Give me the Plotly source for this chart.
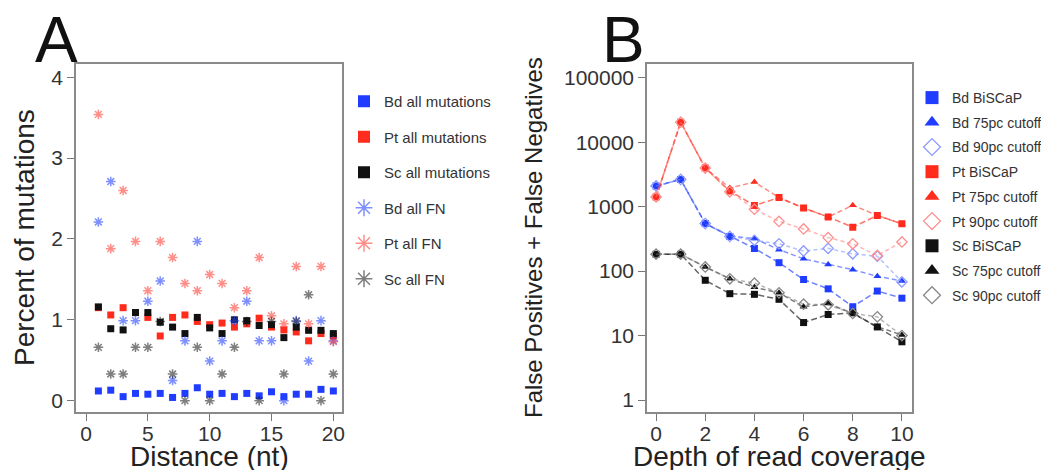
import plotly.graph_objects as go

# Panel A: percent of mutations by distance
distance = list(range(1, 21))
bd_all_mut = [0.12, 0.13, 0.05, 0.09, 0.08, 0.09, 0.04, 0.09, 0.16, 0.08,
              0.09, 0.05, 0.09, 0.06, 0.11, 0.05, 0.08, 0.08, 0.14, 0.12]
pt_all_mut = [1.15, 1.06, 1.15, 1.09, 1.03, 0.80, 1.03, 1.06, 0.98, 0.94,
              0.96, 0.91, 0.95, 1.02, 0.91, 0.875, 0.85, 0.74, 0.83, 0.80]
sc_all_mut = [1.16, 0.89, 0.875, 1.09, 1.09, 0.97, 0.91, 0.83, 1.03, 0.90,
              0.83, 1.00, 0.99, 0.93, 0.94, 0.78, 0.91, 0.87, 0.87, 0.83]
bd_all_fn = [2.21, 2.71, 0.99, 0.99, 1.23, 1.48, 0.25, 0.74, 1.97, 0.49,
             0.74, 0.99, 1.23, 0.74, 0.74, 0.0, 0.99, 0.49, 0.99, 0.74]
pt_all_fn = [3.54, 1.88, 2.60, 1.97, 1.36, 1.97, 1.77, 1.45, 1.36, 1.56,
             1.45, 1.15, 1.36, 1.77, 1.05, 0.95, 1.66, 0.95, 1.66, 0.73]
sc_all_fn = [0.66, 0.33, 0.33, 0.66, 0.66, 0.98, 0.33, 0.0, 0.66, 0.0,
             0.33, 0.66, 0.98, 0.0, 0.98, 0.33, 0.98, 1.31, 0.0, 0.33]

# Panel B: false positives + false negatives by read depth
depth = list(range(0, 11))
bd_biscap = [2090, 2640, 545, 345, 225, 135, 74, 53, 28, 49, 38]
bd_75pc = [2090, 2640, 545, 350, 320, 215, 155, 127, 105, 83, 70]
bd_90pc = [2090, 2640, 545, 345, 300, 265, 205, 225, 185, 170, 68]
pt_biscap = [1410, 20400, 3960, 1740, 1040, 1380, 950, 690, 480, 730, 540]
pt_75pc = [1410, 20400, 3960, 1950, 2400, 1380, 950, 690, 1050, 730, 540]
pt_90pc = [1410, 20400, 3960, 1700, 910, 590, 450, 330, 265, 175, 283]
sc_biscap = [183, 183, 72, 44.6, 43.6, 36.5, 15.9, 21.2, 22.5, 13.6, 8.0]
sc_75pc = [183, 183, 116, 76, 56, 46, 27.9, 31.4, 22, 13.7, 10.2]
sc_90pc = [183, 183, 116, 76, 65, 46, 30.7, 30, 22, 19.5, 10]

# the page body has an 8px margin, so the figure is drawn 8px in from the corner
OFF = 8
W, H = 1049 - OFF, 470 - OFF
FONT = "Liberation Sans, Arial, sans-serif"
BLUE, RED, BLACK = "#1f3cff", "#ff2b1c", "#111111"
BLUE_FN, RED_FN, BLACK_FN = "rgba(40,70,255,0.6)", "rgba(255,50,40,0.55)", "rgba(20,20,20,0.55)"


def px_x(p):
    return (p - OFF) / W


def px_y(p):
    return 1 - (p - OFF) / H


fig = go.Figure()

# --- panel A points
for vals, col in [(bd_all_mut, BLUE), (pt_all_mut, RED), (sc_all_mut, BLACK)]:
    fig.add_trace(go.Scatter(x=distance, y=vals, mode="markers", showlegend=False,
                             marker=dict(symbol="square", size=7, color=col),
                             xaxis="x", yaxis="y"))
for vals, col in [(bd_all_fn, BLUE_FN), (pt_all_fn, RED_FN), (sc_all_fn, BLACK_FN)]:
    fig.add_trace(go.Scatter(x=distance, y=vals, mode="markers", showlegend=False,
                             marker=dict(symbol="asterisk-open", size=8, color=col,
                                         line=dict(color=col, width=1.5)),
                             xaxis="x", yaxis="y"))

# legend A (markers only)
leg_a = [("Bd all mutations", "square", BLUE),
         ("Pt all mutations", "square", RED),
         ("Sc all mutations", "square", BLACK),
         ("Bd all FN", "asterisk-open", BLUE_FN),
         ("Pt all FN", "asterisk-open", RED_FN),
         ("Sc all FN", "asterisk-open", BLACK_FN)]
for i, (name, sym, col) in enumerate(leg_a):
    mk = dict(symbol=sym, size=12, color=col)
    if sym.endswith("open"):
        mk["size"] = 14
        mk["line"] = dict(color=col, width=1.5)
    fig.add_trace(go.Scatter(x=[None], y=[None], mode="markers", name=name, marker=mk,
                             legend="legend", legendgroup="a%d" % i,
                             xaxis="x", yaxis="y"))

# --- panel B lines
b_series = [
    ("Bd BiSCaP", bd_biscap, "square", BLUE, "rgba(31,60,255,0.65)", "6px,3px"),
    ("Bd 75pc cutoff", bd_75pc, "triangle-up", BLUE, "rgba(31,60,255,0.55)", "5px,3px"),
    ("Bd 90pc cutoff", bd_90pc, "diamond-open", "#8d9bff", "rgba(120,140,255,0.55)", "4px,3px"),
    ("Pt BiSCaP", pt_biscap, "square", RED, "rgba(255,43,28,0.65)", "6px,3px"),
    ("Pt 75pc cutoff", pt_75pc, "triangle-up", RED, "rgba(255,43,28,0.55)", "5px,3px"),
    ("Pt 90pc cutoff", pt_90pc, "diamond-open", "#ff8f8f", "rgba(255,120,120,0.55)", "4px,3px"),
    ("Sc BiSCaP", sc_biscap, "square", BLACK, "rgba(20,20,20,0.65)", "6px,3px"),
    ("Sc 75pc cutoff", sc_75pc, "triangle-up", BLACK, "rgba(20,20,20,0.55)", "5px,3px"),
    ("Sc 90pc cutoff", sc_90pc, "diamond-open", "#888888", "rgba(120,120,120,0.55)", "4px,3px"),
]
for name, vals, sym, mcol, lcol, dash in b_series:
    mk = dict(symbol=sym, size=7, color=mcol)
    if sym.endswith("open"):
        mk["line"] = dict(color=mcol, width=1.3)
        mk["size"] = 8
    fig.add_trace(go.Scatter(x=depth, y=vals, mode="lines+markers", showlegend=False,
                             line=dict(color=lcol, width=1.5, dash=dash), marker=mk,
                             xaxis="x2", yaxis="y2"))

for i, (name, vals, sym, mcol, lcol, dash) in enumerate(b_series):
    mk = dict(symbol=sym, size=13, color=mcol)
    if sym.endswith("open"):
        mk["line"] = dict(color=mcol, width=1.3)
    fig.add_trace(go.Scatter(x=[None], y=[None], mode="markers", name=name, marker=mk,
                             legend="legend2", legendgroup="b%d" % i,
                             xaxis="x2", yaxis="y2"))

axis_common = dict(showline=True, mirror=True, linecolor="#8a8a8a", linewidth=1.5,
                   showgrid=False, zeroline=False, ticks="outside", ticklen=7,
                   tickcolor="#777", tickwidth=1, automargin=False,
                   tickfont=dict(family=FONT, size=21, color="#333"))

y0, y1 = px_y(412), px_y(63.5)
fig.update_layout(
    template="none",
    width=W, height=H, margin=dict(l=0, r=0, t=0, b=0, autoexpand=False),
    paper_bgcolor="white", plot_bgcolor="white",
    font=dict(family=FONT, color="#222"),
    xaxis=dict(domain=[px_x(76), px_x(342)], range=[-0.81, 20.7],
               tickvals=[0, 5, 10, 15, 20], ticklabelstandoff=-5, **axis_common),
    yaxis=dict(domain=[y0, y1], range=[-0.14, 4.17], tickvals=[0, 1, 2, 3, 4],
               **axis_common),
    xaxis2=dict(domain=[px_x(647), px_x(912)], range=[-0.37, 10.41],
                tickvals=[0, 2, 4, 6, 8, 10], anchor="y2", ticklabelstandoff=-5,
                **axis_common),
    yaxis2=dict(domain=[y0, y1], type="log", range=[-0.186, 5.22],
                tickvals=[1, 10, 100, 1000, 10000, 100000],
                ticktext=["1", "10", "100", "1000", "10000", "100000"],
                anchor="x2", **axis_common),
    legend=dict(x=px_x(344), y=px_y(85), xanchor="left", yanchor="top",
                font=dict(family=FONT, size=15, color="#333"),
                traceorder="grouped", tracegroupgap=13, bgcolor="rgba(0,0,0,0)",
                itemwidth=30),
    legend2=dict(x=px_x(912), y=px_y(82), xanchor="left", yanchor="top",
                 font=dict(family=FONT, size=14, color="#333"),
                 traceorder="grouped", tracegroupgap=3.5,
                 bgcolor="rgba(0,0,0,0)", itemwidth=30),
)

annots = [
    dict(text="A", x=px_x(56), y=px_y(40), font=dict(size=64, color="#111")),
    dict(text="B", x=px_x(623), y=px_y(40), font=dict(size=64, color="#111")),
    dict(text="Distance (nt)", x=px_x(209), y=px_y(456), font=dict(size=28, color="#222")),
    dict(text="Depth of read coverage", x=px_x(779), y=px_y(456),
         font=dict(size=28, color="#222")),
    dict(text="Percent of mutations", x=px_x(24), y=px_y(238), textangle=-90,
         font=dict(size=28, color="#222")),
    dict(text="False Positives + False Negatives", x=px_x(533), y=px_y(238),
         textangle=-90, font=dict(size=24, color="#222")),
]
for a in annots:
    fig.add_annotation(xref="paper", yref="paper", showarrow=False,
                       xanchor="center", yanchor="middle", **a)

fig.write_html("out.html")
